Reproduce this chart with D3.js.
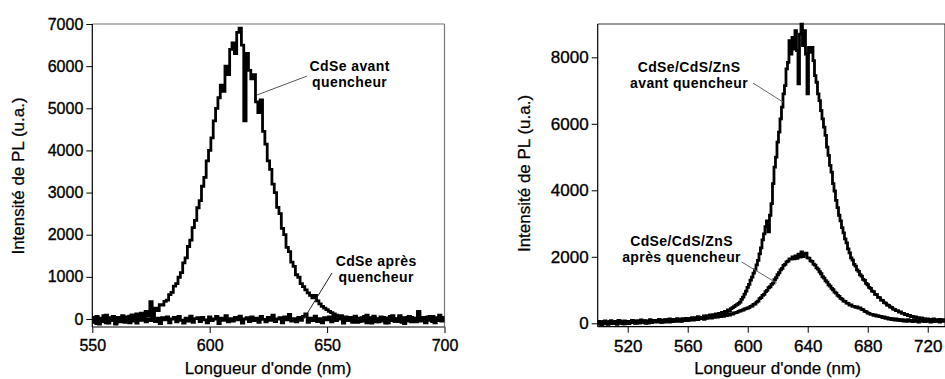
<!DOCTYPE html>
<html>
<head>
<meta charset="utf-8">
<script src="https://cdn.jsdelivr.net/npm/d3@7"></script>
<style>
  html, body { margin: 0; padding: 0; background: #fff; }
  svg { display: block; font-family: "Liberation Sans", Arial, sans-serif; }
</style>
</head>
<body>
<svg id="chart" width="945" height="379"></svg>
<script>
// ---------------- DATA ----------------
// Left panel: CdSe, 550..700 nm, 1 nm steps
const leftStart = 550;
const leftAvant = [
  20, -80, 60, -120, 10, -60, 90, -100, 30, -40,
  -110, 40, -70, 80, -30, 50, -90, 100, 0, 120,
  -20, 140, 60, 180, 80, 410, 150, 260, 200, 340,
  330, 420, 450, 580, 630, 780, 840, 990, 1100, 1330,
  1450, 1720, 1870, 2170, 2340, 2640, 2810, 3150, 3360, 3750,
  4000, 4300, 4700, 5000, 5250, 5550, 5400, 6000, 5800, 6400,
  6550, 6300, 6800, 6900, 6500, 4700, 6300, 5900, 5700, 5800,
  5150, 4900, 5200, 4450, 4150, 3750, 3550, 3200, 3000, 2650,
  2500, 2150, 2000, 1700, 1600, 1350, 1250, 1050, 990, 840,
  770, 690, 620, 560, 500, 560, 430, 360, 300, 260,
  220, 180, 150, 120, 90, 60, 80, 20, 50, -30,
  10, -60, 40, -80, 20, -40, 60, -90, 30, -20,
  70, -70, 10, -50, 40, -100, 20, -30, 80, -60,
  0, 50, -80, 30, -40, 60, -70, 20, -30, 180,
  -50, 40, -90, 10, 60, -60, 30, -40, 90, -20,
  40
];
const leftApres = [
  -60, 40, -110, 20, -30, 80, -90, 10, -40, 60,
  -120, 30, -20, 50, -80, 0, 70, -50, 20, -100,
  40, -30, 60, -70, 10, -40, 90, -60, 20, -110,
  30, -20, 50, -90, 0, 40, -70, 60, -30, -100,
  20, -50, 70, -80, 10, 30, -60, 40, -20, -90,
  50, -40, 0, 60, -110, 20, -30, 80, -70, 10,
  -50, 40, -20, 70, -100, 0, 30, -60, 50, -40,
  20, -80, 60, -10, -70, 40, -30, 90, -60, 0,
  30, -90, 50, -20, 110, -50, 10, -70, 40, -30,
  60, 120, -80, 20, -40, 70, -60, 10, -90, 30,
  -20, 50, -70, 80, -40, 0, 60, -100, 20, -30,
  40, -80, 70, -10, -60, 30, -50, 90, -20, -100,
  40, 0, -70, 50, -30, 20, -90, 60, -40, 10,
  -60, 80, -20, -110, 30, -50, 40, 0, -70, 150,
  -40, 20, -80, 50, -30, 60, -90, 10, 30, -50,
  20
];

// Right panel: CdSe/CdS/ZnS, 500..731 nm, 1 nm steps
const rightStart = 500;
const rightAvant = [
  20, 60, -30, 40, 10, 70, -20, 50, 0, 80,
  30, -10, 60, 20, 90, 10, 50, -20, 70, 40,
  0, 60, 30, 90, 20, 50, 10, 80, 40, 100,
  30, 70, 0, 60, 40, 110, 20, 80, 50, 90,
  60, 120, 30, 90, 70, 40, 110, 60, 130, 80,
  50, 120, 90, 140, 70, 110, 60, 130, 100, 150,
  90, 140, 110, 170, 120, 160, 140, 200, 150, 180,
  170, 220, 160, 230, 200, 250, 190, 260, 230, 280,
  250, 300, 270, 330, 310, 360, 340, 400, 380, 440,
  470, 500, 540, 560, 600, 640, 720, 790, 880, 970,
  1080, 1170, 1300, 1390, 1510, 1610, 1760, 1890, 2090, 2270,
  2510, 2690, 2910, 3080, 2750, 3250, 3600, 4200, 4700, 5000,
  5450, 5750, 6150, 6500, 6900, 7150, 7650, 7850, 8500, 8100,
  8600, 8250, 8800, 8200, 7200, 8700, 9000, 8350, 8800, 8100,
  6900, 8300, 8150, 8300, 7900, 7450, 7250, 6900, 6700, 6400,
  6150, 5900, 5650, 5300, 5050, 4750, 4550, 4200, 3980, 3700,
  3480, 3250, 3080, 2880, 2720, 2540, 2420, 2240, 2120, 1970,
  1900, 1770, 1720, 1610, 1560, 1460, 1420, 1320, 1290, 1200,
  1160, 1080, 1050, 970, 950, 870, 860, 780, 770, 700,
  690, 620, 610, 550, 540, 490, 480, 430, 420, 380,
  380, 340, 340, 300, 300, 260, 270, 230, 240, 200,
  210, 180, 190, 150, 170, 140, 160, 120, 140, 100,
  130, 90, 120, 80, 130, 90, 110, 70, 120, 90,
  110, 80
];
const rightApres = [
  -20, 40, 10, -40, 60, 0, 30, -30, 50, 10,
  -10, 50, 20, -30, 40, 70, 0, 30, -20, 60,
  20, -10, 50, 30, 80, 0, 40, 60, 10, 70,
  50, 20, 80, 40, 10, 70, 30, 90, 60, 40,
  80, 50, 100, 30, 70, 110, 60, 90, 40, 100,
  70, 110, 60, 120, 90, 70, 130, 100, 80, 140,
  110, 90, 150, 120, 100, 160, 130, 110, 170, 140,
  150, 120, 180, 150, 200, 170, 160, 210, 180, 200,
  190, 220, 200, 230, 210, 250, 230, 270, 250, 290,
  280, 310, 320, 330, 360, 370, 390, 400, 430, 440,
  460, 470, 510, 520, 570, 580, 640, 670, 740, 770,
  840, 870, 950, 990, 1070, 1100, 1170, 1210, 1310, 1370,
  1460, 1520, 1610, 1650, 1740, 1770, 1850, 1870, 1940, 1930,
  2000, 1940, 2030, 1950, 2080, 1990, 2150, 2010, 2090, 2110,
  1970, 1960, 1880, 1860, 1780, 1750, 1670, 1630, 1550, 1490,
  1400, 1360, 1280, 1240, 1160, 1120, 1050, 1010, 940, 910,
  840, 810, 750, 730, 670, 660, 610, 600, 550, 550,
  510, 510, 480, 490, 460, 460, 420, 410, 360, 350,
  310, 300, 270, 270, 240, 250, 220, 230, 200, 210,
  170, 190, 150, 170, 130, 150, 110, 140, 100, 130,
  90, 120, 80, 110, 70, 100, 60, 110, 70, 90,
  50, 100, 60, 80, 40, 90, 60, 70, 50, 90,
  60, 80, 40, 90, 50, 70, 60, 90, 40, 80,
  60, 90
];

// tick values
const leftXTicks = [550, 600, 650, 700];
const leftYTicks = [0, 1000, 2000, 3000, 4000, 5000, 6000, 7000];
const rightXTicks = [520, 560, 600, 640, 680, 720];
const rightYTicks = [0, 2000, 4000, 6000, 8000];

// text
const xTitle = "Longueur d'onde (nm)";
const yTitle = "Intensité de PL (u.a.)";

// annotations: label lines, label anchor (nm, value), leader from/to (nm, value)
const leftNotes = [
  { lines: ["CdSe avant", "quencheur"], at: [659.6, 5885], from: [641.5, 5766], to: [620.2, 5316], color: "#555" },
  { lines: ["CdSe après", "quencheur"], at: [670.9, 1258], from: [652.1, 1092], to: [639.8, -24], color: "#222" }
];
const rightNotes = [
  { lines: ["CdSe/CdS/ZnS", "avant quencheur"], at: [560.9, 7558], from: [603.5, 7227], to: [623.5, 6656], color: "#666" },
  { lines: ["CdSe/CdS/ZnS", "après quencheur"], at: [555.9, 2325], from: [596.0, 1844], to: [619.3, 1212], color: "#666" }
];

// ---------------- DRAW ----------------
const svg = d3.select("#chart");

function panel(opt) {
  const x = d3.scaleLinear().domain(opt.xDomain).range(opt.xRange);
  const y = d3.scaleLinear().domain(opt.yDomain).range(opt.yRange);
  const g = svg.append("g");
  const clipId = "clip" + opt.id;
  svg.append("clipPath").attr("id", clipId).append("rect")
    .attr("x", opt.xRange[0]).attr("y", opt.yRange[1] - 2)
    .attr("width", opt.xRange[1] - opt.xRange[0]).attr("height", opt.yRange[0] - opt.yRange[1] + 2);

  // frame (top/right)
  g.append("line").attr("x1", opt.xRange[0]).attr("x2", opt.xRange[1])
    .attr("y1", opt.yRange[1]).attr("y2", opt.yRange[1])
    .attr("stroke", opt.frameColor).attr("stroke-width", 1.2);
  g.append("line").attr("x1", opt.xRange[1]).attr("x2", opt.xRange[1])
    .attr("y1", opt.yRange[1]).attr("y2", opt.yRange[0])
    .attr("stroke", opt.frameColor).attr("stroke-width", 1.2);

  // series
  const line = d3.line().x((d, i) => x(opt.start + i)).y(d => y(d)).curve(d3.curveStep);
  const sg = g.append("g").attr("clip-path", `url(#${clipId})`);
  opt.series.forEach(s => {
    sg.append("path").datum(s).attr("d", line)
      .attr("fill", "none").attr("stroke", "#000").attr("stroke-width", 2.8)
      .attr("stroke-linejoin", "miter");
  });

  // axes
  const ya = g.append("g").attr("transform", `translate(${opt.xRange[0]},0)`)
    .call(d3.axisLeft(y).tickValues(opt.yTicks).tickSize(6).tickPadding(3).tickFormat(d3.format("d")));
  const xa = g.append("g").attr("transform", `translate(0,${opt.yRange[0]})`)
    .call(d3.axisBottom(x).tickValues(opt.xTicks).tickSize(6).tickPadding(7).tickFormat(d3.format("d")));
  [ya, xa].forEach(a => {
    a.select(".domain").attr("stroke", "#000").attr("stroke-width", 1.2);
    a.selectAll(".tick line").attr("stroke", "#000").attr("stroke-width", 1);
    a.selectAll(".tick text").attr("font-size", opt.tickFont).attr("fill", "#000")
      .attr("stroke", "#000").attr("stroke-width", 0.35)
      .attr("font-family", '"Liberation Sans", Arial, sans-serif');
  });
  ya.select(".domain").attr("d", `M0,${opt.yRange[0]}V${opt.yRange[1]}`);
  xa.select(".domain").attr("d", `M${opt.xRange[0]},0H${opt.xRange[1]}`);

  // titles
  g.append("text").attr("x", opt.xTitleX).attr("y", 374).attr("text-anchor", "middle")
    .attr("font-size", 17).attr("fill", "#000").attr("stroke", "#000").attr("stroke-width", 0.25).text(xTitle);
  g.append("text").attr("transform", `translate(${opt.yTitleX},${opt.yTitleY}) rotate(-90)`)
    .attr("text-anchor", "middle").attr("font-size", 17).attr("fill", "#000")
    .attr("stroke", "#000").attr("stroke-width", 0.25).text(yTitle);

  // annotations
  opt.notes.forEach(n => {
    g.append("line")
      .attr("x1", x(n.from[0])).attr("y1", y(n.from[1]))
      .attr("x2", x(n.to[0])).attr("y2", y(n.to[1]))
      .attr("stroke", n.color).attr("stroke-width", 1);
    const t = g.append("text").attr("text-anchor", "middle")
      .attr("font-size", 14).attr("font-weight", "bold").attr("letter-spacing", 0.4).attr("fill", "#000");
    n.lines.forEach((l, i) => {
      t.append("tspan").attr("x", x(n.at[0])).attr("y", y(n.at[1]) + i * 16).text(l);
    });
  });
}

panel({
  id: "L", start: leftStart, series: [leftAvant, leftApres],
  xDomain: [550, 700], xRange: [92.3, 444.5],
  yDomain: [-190, 7000], yRange: [327, 24],
  xTicks: leftXTicks, yTicks: leftYTicks, tickFont: 16,
  frameColor: "#777", notes: leftNotes,
  xTitleX: 268, yTitleX: 24, yTitleY: 176
});

panel({
  id: "R", start: rightStart, series: [rightAvant, rightApres],
  xDomain: [500, 731.5], xRange: [597.7, 945],
  yDomain: [-102, 9002], yRange: [326.7, 24],
  xTicks: rightXTicks, yTicks: rightYTicks, tickFont: 17,
  frameColor: "#333", notes: rightNotes,
  xTitleX: 777.5, yTitleX: 530, yTitleY: 173.5
});
</script>
</body>
</html>
